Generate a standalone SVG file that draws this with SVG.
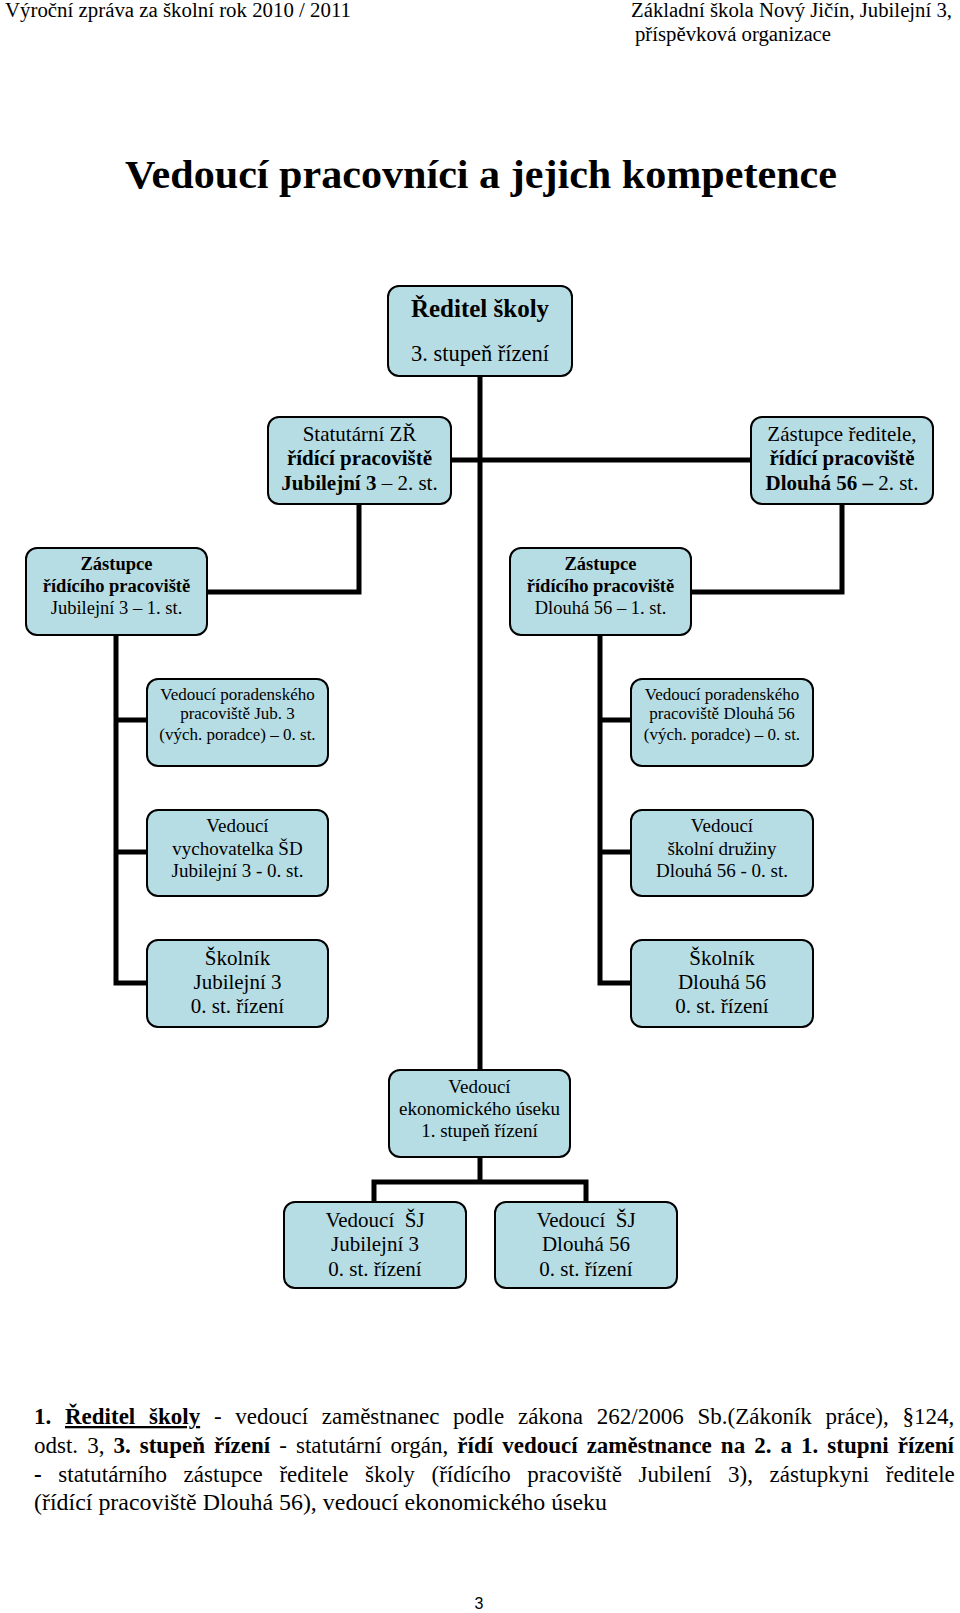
<svg xmlns="http://www.w3.org/2000/svg" width="960" height="1613" viewBox="0 0 960 1613">
<style>
text{font-family:"Liberation Serif","Times New Roman",serif;fill:#000}
.box{fill:#b7dde4;stroke:#000;stroke-width:2}
.c{text-anchor:middle}
.b{font-weight:bold}
.con{fill:none;stroke:#000;stroke-width:5;stroke-linejoin:miter;stroke-linecap:butt}
</style>
<rect width="960" height="1613" fill="#fff"/>
<g id="header">
<text x="5" y="17" font-size="20" textLength="346" lengthAdjust="spacingAndGlyphs">Výroční zpráva za školní rok 2010 / 2011</text>
<text x="631" y="17" font-size="20" textLength="321" lengthAdjust="spacingAndGlyphs">Základní škola Nový Jičín, Jubilejní 3,</text>
<text x="635" y="41" font-size="20" textLength="196" lengthAdjust="spacingAndGlyphs">příspěvková organizace</text>
</g>
<text id="title" x="125" y="188" font-size="40" class="b" textLength="712" lengthAdjust="spacingAndGlyphs">Vedoucí pracovníci a jejich kompetence</text>
<g id="connectors">
<path class="con" d="M480,376 V1070"/>
<path class="con" d="M451,460 H751"/>
<path class="con" d="M359,504 V592 H207"/>
<path class="con" d="M842,504 V592 H691"/>
<path class="con" d="M116,635 V983 H147"/>
<path class="con" d="M116,720 H147 M116,852 H147"/>
<path class="con" d="M600,635 V983 H631"/>
<path class="con" d="M600,720 H631 M600,852 H631"/>
<path class="con" d="M480,1157 V1182"/>
<path class="con" d="M374,1202 V1182 H586 V1202"/>
</g>
<g id="reditel">
<rect class="box" x="388" y="286" width="184" height="90" rx="11"/>
<text class="c b" x="480" y="317" font-size="25">Ředitel školy</text>
<text class="c" x="480" y="361" font-size="22.5">3. stupeň řízení</text>
</g>
<g id="statutarni">
<rect class="box" x="268" y="417" width="183" height="87" rx="11"/>
<text class="c" x="359.5" y="441" font-size="21">Statutární ZŘ</text>
<text class="c b" x="359.5" y="465" font-size="21">řídící pracoviště</text>
<text class="c" x="359.5" y="489.5" font-size="21"><tspan class="b">Jubilejní 3</tspan> – 2. st.</text>
</g>
<g id="zastupce-reditele">
<rect class="box" x="751" y="417" width="182" height="87" rx="11"/>
<text class="c" x="842" y="441" font-size="21">Zástupce ředitele,</text>
<text class="c b" x="842" y="465" font-size="21">řídící pracoviště</text>
<text class="c" x="842" y="489.5" font-size="21"><tspan class="b">Dlouhá 56 –</tspan> 2. st.</text>
</g>
<g id="zastupce-jub">
<rect class="box" x="26" y="548" width="181" height="87" rx="11"/>
<text class="c b" x="116.5" y="570" font-size="18.5">Zástupce</text>
<text class="c b" x="116.5" y="592" font-size="18.5">řídícího pracoviště</text>
<text class="c" x="116.5" y="614" font-size="18.5">Jubilejní 3 – 1. st.</text>
</g>
<g id="zastupce-dlouha">
<rect class="box" x="510" y="548" width="181" height="87" rx="11"/>
<text class="c b" x="600.5" y="570" font-size="18.5">Zástupce</text>
<text class="c b" x="600.5" y="592" font-size="18.5">řídícího pracoviště</text>
<text class="c" x="600.5" y="614" font-size="18.5">Dlouhá 56 – 1. st.</text>
</g>
<g id="poradenske-jub">
<rect class="box" x="147" y="679" width="181" height="87" rx="11"/>
<text class="c" x="237.5" y="699.5" font-size="17">Vedoucí poradenského</text>
<text class="c" x="237.5" y="719" font-size="17">pracoviště Jub. 3</text>
<text class="c" x="237.5" y="740" font-size="17">(vých. poradce) – 0. st.</text>
</g>
<g id="poradenske-dlouha">
<rect class="box" x="631" y="679" width="182" height="87" rx="11"/>
<text class="c" x="722" y="699.5" font-size="17">Vedoucí poradenského</text>
<text class="c" x="722" y="719" font-size="17">pracoviště Dlouhá 56</text>
<text class="c" x="722" y="740" font-size="17">(vých. poradce) – 0. st.</text>
</g>
<g id="vychovatelka-jub">
<rect class="box" x="147" y="810" width="181" height="86" rx="11"/>
<text class="c" x="237.5" y="832" font-size="19">Vedoucí</text>
<text class="c" x="237.5" y="854.5" font-size="19">vychovatelka ŠD</text>
<text class="c" x="237.5" y="876.5" font-size="19">Jubilejní 3 - 0. st.</text>
</g>
<g id="druzina-dlouha">
<rect class="box" x="631" y="810" width="182" height="86" rx="11"/>
<text class="c" x="722" y="832" font-size="19">Vedoucí</text>
<text class="c" x="722" y="854.5" font-size="19">školní družiny</text>
<text class="c" x="722" y="876.5" font-size="19">Dlouhá 56 - 0. st.</text>
</g>
<g id="skolnik-jub">
<rect class="box" x="147" y="940" width="181" height="87" rx="11"/>
<text class="c" x="237.5" y="965" font-size="21">Školník</text>
<text class="c" x="237.5" y="989" font-size="21">Jubilejní 3</text>
<text class="c" x="237.5" y="1013" font-size="21">0. st. řízení</text>
</g>
<g id="skolnik-dlouha">
<rect class="box" x="631" y="940" width="182" height="87" rx="11"/>
<text class="c" x="722" y="965" font-size="21">Školník</text>
<text class="c" x="722" y="989" font-size="21">Dlouhá 56</text>
<text class="c" x="722" y="1013" font-size="21">0. st. řízení</text>
</g>
<g id="ekonomicky">
<rect class="box" x="389" y="1070" width="181" height="87" rx="11"/>
<text class="c" x="479.5" y="1093" font-size="19">Vedoucí</text>
<text class="c" x="479.5" y="1115" font-size="19">ekonomického úseku</text>
<text class="c" x="479.5" y="1137" font-size="19">1. stupeň řízení</text>
</g>
<g id="sj-jub">
<rect class="box" x="284" y="1202" width="182" height="86" rx="11"/>
<text class="c" x="375" y="1226.5" font-size="21" xml:space="preserve">Vedoucí  ŠJ</text>
<text class="c" x="375" y="1251" font-size="21">Jubilejní 3</text>
<text class="c" x="375" y="1275.5" font-size="21">0. st. řízení</text>
</g>
<g id="sj-dlouha">
<rect class="box" x="495" y="1202" width="182" height="86" rx="11"/>
<text class="c" x="586" y="1226.5" font-size="21" xml:space="preserve">Vedoucí  ŠJ</text>
<text class="c" x="586" y="1251" font-size="21">Dlouhá 56</text>
<text class="c" x="586" y="1275.5" font-size="21">0. st. řízení</text>
</g>
<g id="paragraph" font-size="23">
<text x="34" y="1424" word-spacing="8"><tspan class="b">1. </tspan><tspan class="b" text-decoration="underline">Ředitel školy</tspan> - vedoucí zaměstnanec podle zákona 262/2006 Sb.(Zákoník práce), §124,</text>
<text x="34" y="1453" word-spacing="3.3">odst. 3, <tspan class="b">3. stupeň řízení</tspan> - statutární orgán, <tspan class="b">řídí vedoucí zaměstnance na 2. a 1. stupni řízení</tspan></text>
<text x="34" y="1482" word-spacing="10.9"><tspan class="b">-</tspan> statutárního zástupce ředitele školy (řídícího pracoviště Jubilení 3), zástupkyni ředitele</text>
<text x="34" y="1510" textLength="573" lengthAdjust="spacingAndGlyphs">(řídící pracoviště Dlouhá 56), vedoucí ekonomického úseku</text>
</g>
<text id="page-number" x="479" y="1609" font-size="16" text-anchor="middle" style="font-family:'Liberation Sans','DejaVu Sans',sans-serif">3</text>
</svg>
